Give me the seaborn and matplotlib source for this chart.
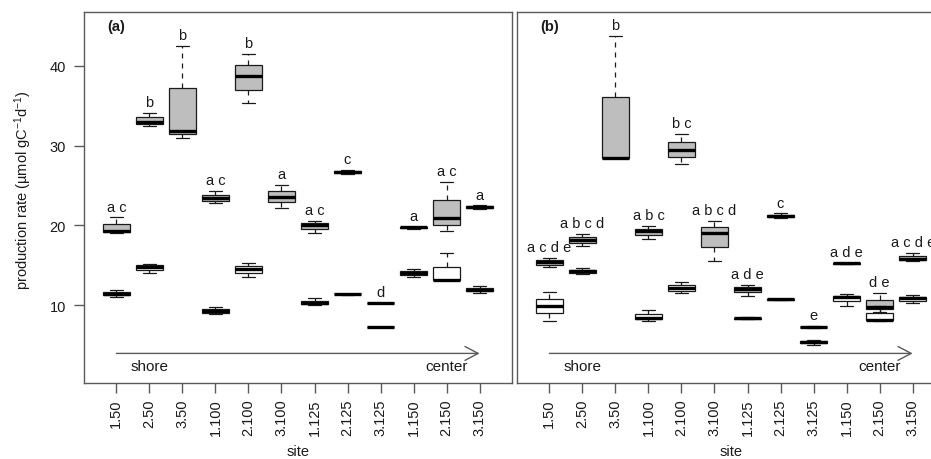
import matplotlib
matplotlib.use("Agg")
import matplotlib.pyplot as plt
import numpy as np
import pandas as pd
import seaborn as sns

# ---- data -----------------------------------------------------------------
sites = ["1.50", "2.50", "3.50", "1.100", "2.100", "3.100",
         "1.125", "2.125", "3.125", "1.150", "2.150", "3.150"]

# three replicate production rates per site (None: no measurement)
a_series1 = [[19.0, 19.3, 21.0], [32.4, 33.0, 34.1], [31.0, 31.8, 42.5],
             [22.75, 23.4, 24.3], [35.3, 38.7, 41.4], [22.2, 23.6, 25.1],
             [19.1, 20.1, 20.6], [26.5, 26.7, 26.9], [10.25, 10.3, 10.35],
             [19.6, 19.75, 19.85], [19.3, 20.9, 25.5], [22.1, 22.35, 22.5]]
a_series2 = [[11.1, 11.4, 11.9], [14.1, 14.8, 15.2], None,
             [8.94, 9.25, 9.84], [13.6, 14.5, 15.3], None,
             [10.0, 10.3, 10.9], [11.35, 11.4, 11.45], [7.25, 7.3, 7.35],
             [13.54, 14.04, 14.54], [13.16, 13.2, 16.5], [11.6, 11.96, 12.4]]
b_series1 = [[14.84, 15.4, 15.9], [17.46, 18.16, 18.9], [28.4, 28.45, 43.66],
             [18.3, 19.25, 19.96], [27.7, 29.4, 31.4], [15.6, 19.1, 20.54],
             [11.2, 12.04, 12.54], [20.9, 21.2, 21.5], [7.2, 7.3, 7.4],
             [15.15, 15.25, 15.35], [9.2, 9.8, 11.6], [15.6, 15.8, 16.6]]
b_series2 = [[8.1, 9.96, 11.7], [13.9, 14.25, 14.7], None,
             [8.1, 8.4, 9.4], [11.5, 12.16, 12.96], None,
             [8.3, 8.4, 8.5], [10.7, 10.75, 10.8], [5.1, 5.4, 5.7],
             [9.96, 11.04, 11.4], [8.1, 8.15, 9.9], [10.3, 10.9, 11.3]]

letters_a = ["a c", "b", "b", "a c", "b", "a", "a c", "c", "d", "a", "a c", "a"]
letters_b = ["a c d e", "a b c d", "b", "a b c", "b c", "a b c d",
             "a d e", "c", "e", "a d e", "d e", "a c d e"]

groups = ["series 1", "series 2"]

# ---- long table ------------------------------------------------------------
rows = []
for panel, s1, s2 in (("a", a_series1, a_series2), ("b", b_series1, b_series2)):
    for site, v1, v2 in zip(sites, s1, s2):
        for grp, vals in zip(groups, (v1, v2)):
            if vals is None:
                continue
            for v in vals:
                rows.append((panel, site, grp, v))
df = pd.DataFrame(rows, columns=["panel", "site", "group", "rate"])

# ---- style -----------------------------------------------------------------
sns.set_theme(style="ticks")
plt.rcParams["font.family"] = ["Liberation Sans", "DejaVu Sans"]
plt.rcParams["mathtext.fontset"] = "custom"
plt.rcParams["mathtext.rm"] = "Liberation Sans"
plt.rcParams["mathtext.it"] = "Liberation Sans:italic"
plt.rcParams["mathtext.default"] = "regular"

frame_col = "#5a5a5a"
text_col = "#1a1a1a"
palette = {"series 1": "#bebebe", "series 2": "white"}

fig = plt.figure(figsize=(9.31, 4.6), dpi=100)
W, H = 931, 460
ax_a = fig.add_axes([84 / W, 76 / H, 428 / W, 371 / H])
ax_b = fig.add_axes([517 / W, 76 / H, 428 / W, 371 / H])

panels = [(ax_a, "a", a_series1, letters_a), (ax_b, "b", b_series1, letters_b)]

for ax, panel, top_series, letters in panels:
    sub = df[df["panel"] == panel]
    sns.boxplot(data=sub, x="site", y="rate", hue="group",
                order=sites, hue_order=groups, palette=palette,
                dodge=False, width=0.8, saturation=1,
                linecolor="#1a1a1a", linewidth=0.9,
                medianprops=dict(color="black", linewidth=2.4),
                whiskerprops=dict(linestyle=(0, (4, 4))),
                legend=False, ax=ax)

    # significance letters above the upper series
    for i, (vals, lab) in enumerate(zip(top_series, letters)):
        ax.annotate(lab, xy=(i, max(vals)), xytext=(0, 5),
                    textcoords="offset points", ha="center", va="baseline",
                    fontsize=10.5, color=text_col)

    ax.set_xlim(-0.98, 11.98)
    ax.set_ylim(0.3, 46.7)

    # shore -> center gradient arrow
    ax.annotate("", xy=(11, 4), xytext=(0, 4),
                arrowprops=dict(arrowstyle="->,head_length=0.95,head_width=0.5",
                                color=frame_col, lw=1.0,
                                shrinkA=0, shrinkB=0, mutation_scale=10))
    ax.text(1, 2.4, "shore", ha="center", va="center", fontsize=11, color=text_col)
    ax.text(10, 2.4, "center", ha="center", va="center", fontsize=11, color=text_col)
    ax.text(0, 44.9, f"({panel})", ha="center", va="center", fontsize=10.5,
            fontweight="bold", color=text_col)

    for sp in ax.spines.values():
        sp.set_visible(True)
        sp.set_color(frame_col)
        sp.set_linewidth(1.0)

    ax.set_xticks(range(len(sites)))
    ax.set_xticklabels(sites, rotation=90, fontsize=10.5, color=text_col)
    ax.tick_params(axis="x", length=7, width=1, color=frame_col, pad=4)
    ax.set_xlabel("site", fontsize=10.5, color=text_col)
    ax.xaxis.set_label_coords(0.5, -0.165)

ax_a.set_yticks([10, 20, 30, 40])
ax_a.tick_params(axis="y", length=7, width=1, color=frame_col, pad=6,
                 labelsize=10.5, labelcolor=text_col)
ax_a.set_ylabel("production rate (µmol gC$^{-1}$d$^{-1}$)", fontsize=10.5,
                color=text_col)
ax_a.yaxis.set_label_coords(-0.117, 0.523)
ax_b.tick_params(axis="y", left=False, labelleft=False)
ax_b.set_ylabel("")

fig.savefig("out.png", dpi=100)
